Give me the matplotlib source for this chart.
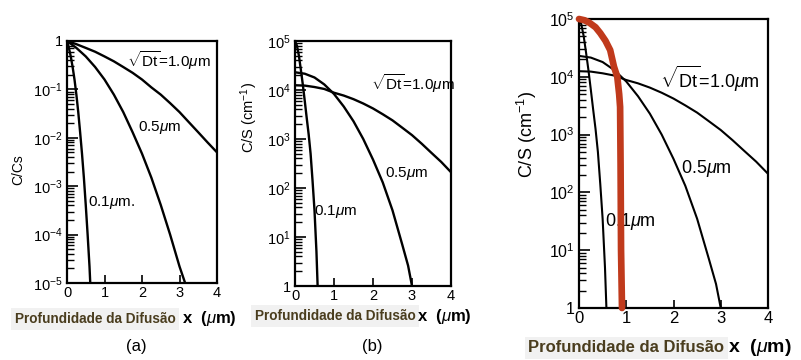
import matplotlib
matplotlib.use("Agg")
import matplotlib.pyplot as plt
from matplotlib.ticker import LogLocator, NullFormatter, FixedLocator, FixedFormatter

plt.rcParams['font.family'] = ['Liberation Sans', 'DejaVu Sans']
plt.rcParams['mathtext.fontset'] = 'custom'
plt.rcParams['mathtext.rm'] = 'Liberation Sans'
plt.rcParams['mathtext.it'] = 'Liberation Sans:italic'
plt.rcParams['mathtext.bf'] = 'Liberation Sans:bold'

# ---------------- data ----------------
x_ticks = [0, 1, 2, 3, 4]

# panel (a): C/Cs
xa_10 = [0, 0.25, 0.5, 0.75, 1.0, 1.25, 1.5, 1.75, 2.0, 2.25, 2.5, 2.75, 3.0, 3.25, 3.5, 3.75, 4.0]
ya_10 = [1.0, 0.86, 0.72, 0.6, 0.48, 0.38, 0.29, 0.22, 0.16, 0.11, 0.078, 0.052, 0.034, 0.021, 0.013, 0.008, 0.005]
xa_05 = [0, 0.25, 0.5, 0.75, 1.0, 1.25, 1.5, 1.75, 2.0, 2.25, 2.5, 2.75, 3.0, 3.15]
ya_05 = [1.0, 0.72, 0.48, 0.29, 0.16, 0.078, 0.034, 0.013, 0.0047, 0.0015, 4.1e-4, 1.0e-4, 2.2e-5, 1e-5]
xa_01 = [0, 0.05, 0.1, 0.15, 0.2, 0.25, 0.3, 0.35, 0.4, 0.45, 0.5, 0.55, 0.6, 0.62]
ya_01 = [1.0, 0.72, 0.48, 0.29, 0.16, 0.078, 0.034, 0.013, 0.0047, 0.0015, 4.1e-4, 1.0e-4, 2.2e-5, 1e-5]
a_ytick_vals = [1e-5, 1e-4, 1e-3, 1e-2, 1e-1, 1]
a_ytick_labels = [r'$10^{-5}$', r'$10^{-4}$', r'$10^{-3}$', r'$10^{-2}$', r'$10^{-1}$', '1']

# panels (b) and (c): C/S (cm^-1)
xb_10 = [0, 0.25, 0.5, 0.75, 1.0, 1.25, 1.5, 1.75, 2.0, 2.25, 2.5, 2.75, 3.0, 3.25, 3.5, 3.75, 4.0]
yb_10 = [1.25e4, 1.23e4, 1.15e4, 1.05e4, 8.8e3, 7.7e3, 6.5e3, 5.3e3, 4.2e3, 3.2e3, 2.4e3, 1.7e3, 1.2e3, 800, 520, 340, 210]
xb_05 = [0, 0.25, 0.5, 0.75, 1.0, 1.25, 1.5, 1.75, 2.0, 2.25, 2.5, 2.75, 2.9, 3.0]
yb_05 = [2.3e4, 2.15e4, 1.8e4, 1.3e4, 8.3e3, 4.6e3, 2.3e3, 1.0e3, 380, 130, 35, 7, 2.6, 1]
xb_01 = [0, 0.05, 0.1, 0.15, 0.2, 0.25, 0.3, 0.35, 0.4, 0.45, 0.5, 0.55, 0.58]
yb_01 = [1e5, 8e4, 5e4, 2.6e4, 1.3e4, 6e3, 2.7e3, 1.25e3, 500, 140, 35, 5, 1]
b_ytick_vals = [1, 1e1, 1e2, 1e3, 1e4, 1e5]
b_ytick_labels = ['1', r'$10^{1}$', r'$10^{2}$', r'$10^{3}$', r'$10^{4}$', r'$10^{5}$']

# panel (c): highlighted red profile
xr = [0, 0.12, 0.23, 0.35, 0.45, 0.56, 0.66, 0.74, 0.81, 0.85, 0.87, 0.88, 0.89, 0.91]
yr = [1e5, 9.5e4, 8.5e4, 7.2e4, 5.7e4, 4.2e4, 2.9e4, 1.5e4, 1e4, 5e3, 3e3, 300, 10, 1]

W, H = 801, 360
fig = plt.figure(figsize=(W / 100, H / 100), dpi=100)


def add_ax(left, top, right, bottom):
    return fig.add_axes([left / W, 1 - bottom / H, (right - left) / W, (bottom - top) / H])


def style(ax, ylim, yvals, ylabels, fs, xfs):
    ax.set_yscale('log')
    ax.set_xlim(0, 4)
    ax.set_ylim(*ylim)
    ax.yaxis.set_major_locator(FixedLocator(yvals))
    ax.yaxis.set_major_formatter(FixedFormatter(ylabels))
    ax.yaxis.set_minor_locator(LogLocator(base=10, subs=range(2, 10), numticks=20))
    ax.yaxis.set_minor_formatter(NullFormatter())
    ax.xaxis.set_major_locator(FixedLocator(x_ticks))
    ax.xaxis.set_major_formatter(FixedFormatter([str(v) for v in x_ticks]))
    ax.tick_params(axis='y', which='major', direction='in', length=8, width=1.2,
                   labelsize=fs, pad=3, right=False)
    ax.tick_params(axis='y', which='minor', direction='in', length=5, width=1.0, right=False)
    ax.tick_params(axis='x', which='major', direction='in', length=6, width=1.2,
                   labelsize=xfs, pad=2, top=False)
    for s in ax.spines.values():
        s.set_linewidth(1.6)


lw = 1.7
# ---- panel (a)
axa = add_ax(67, 41, 217, 283)
axa.plot(xa_10, ya_10, color='black', lw=lw)
axa.plot(xa_05, ya_05, color='black', lw=lw)
axa.plot(xa_01, ya_01, color='black', lw=lw)
style(axa, (1e-5, 1), a_ytick_vals, a_ytick_labels, 10.5, 10.5)
axa.text(1.6, 0.4, r'$\sqrt{\rm Dt}$=1.0$\mu$m', fontsize=11, va='center')
axa.text(1.9, 0.016, r'0.5$\mu$m', fontsize=11, va='center')
axa.text(0.57, 4.7e-4, r'0.1$\mu$m.', fontsize=11, va='center')

# ---- panel (b)
axb = add_ax(295, 41, 451, 286)
axb.plot(xb_10, yb_10, color='black', lw=lw)
axb.plot(xb_05, yb_05, color='black', lw=lw)
axb.plot(xb_01, yb_01, color='black', lw=lw)
style(axb, (1, 1e5), b_ytick_vals, b_ytick_labels, 10.5, 10.5)
axb.text(1.95, 1.35e4, r'$\sqrt{\rm Dt}$=1.0$\mu$m', fontsize=11, va='center')
axb.text(2.3, 200, r'0.5$\mu$m', fontsize=11, va='center')
axb.text(0.48, 33, r'0.1$\mu$m', fontsize=11, va='center')

# ---- panel (c)
axc = add_ax(579, 19, 768, 308)
axc.plot(xb_10, yb_10, color='black', lw=1.5)
axc.plot(xb_05, yb_05, color='black', lw=1.5)
axc.plot(xb_01, yb_01, color='black', lw=1.5)
axc.plot(xr, yr, color='#c03a1c', lw=4.8, solid_capstyle='round', clip_on=False, zorder=5)
style(axc, (1, 1e5), b_ytick_vals, b_ytick_labels, 11.5, 12)
axc.text(1.72, 9e3, r'$\sqrt{\rm Dt}$=1.0$\mu$m', fontsize=13, va='center')
axc.text(2.15, 260, r'0.5$\mu$m', fontsize=13, va='center')
axc.text(0.56, 31, r'0.1$\mu$m', fontsize=13, va='center')

# ---- y labels
fig.text(18 / W, 1 - 170 / H, 'C/Cs', rotation=90, ha='center', va='center', fontsize=10)
fig.text(249 / W, 1 - 118 / H, r'C/S (cm$^{-1}$)', rotation=90, ha='center', va='center', fontsize=10.5)
fig.text(527 / W, 1 - 135 / H, r'C/S (cm$^{-1}$)', rotation=90, ha='center', va='center', fontsize=13)

# ---- x labels
olive = '#4a3d1e'
def xlabel(x0, x1, y, fs, fs2):
    fig.text(x0 / W, 1 - y / H, 'Profundidade da Difusão', ha='left', va='center',
             fontsize=fs, fontweight='bold', color=olive,
             bbox=dict(facecolor='#f1f1f1', edgecolor='none', pad=2.5))
    fig.text(x1 / W, 1 - y / H, r'x  ($\mu$m)', ha='left', va='center',
             fontsize=fs2, color='black', fontweight='bold')

xlabel(15, 182, 319, 9.8, 12)
xlabel(255, 417, 316, 9.8, 12)
xlabel(528, 728, 348, 12, 14)

fig.text(136 / W, 1 - 346 / H, '(a)', ha='center', va='center', fontsize=12)
fig.text(372 / W, 1 - 346 / H, '(b)', ha='center', va='center', fontsize=12)

fig.savefig('out.png', dpi=100, facecolor='white')
